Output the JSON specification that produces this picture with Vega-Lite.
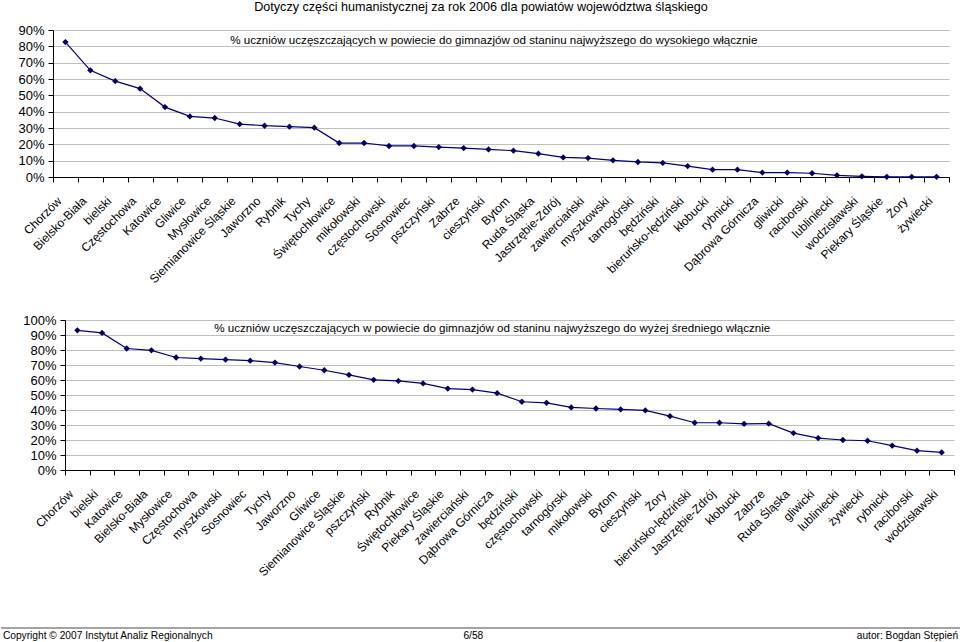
{
  "$schema": "https://vega.github.io/schema/vega-lite/v6.json",
  "background": "white",
  "padding": {"left": 0, "top": 1, "right": 0, "bottom": 0},
  "bounds": "flush",
  "spacing": 143,
  "title": {"text": "Dotyczy części humanistycznej za rok 2006 dla powiatów województwa śląskiego", "font": "Liberation Sans", "fontSize": 12.6, "fontWeight": "normal", "color": "black", "anchor": "middle", "offset": 10},
  "config": {
    "view": {"stroke": null},
    "font": "Liberation Sans",
    "axis": {"labelFont": "Liberation Sans", "labelColor": "black", "domainColor": "black", "tickColor": "black", "title": null},
    "axisX": {"labelAngle": -45, "labelFontSize": 12, "tickBand": "extent", "tickSize": 5, "labelPadding": 13, "labelOffset": -10, "grid": false},
    "axisY": {"format": ".0%", "labelFontSize": 13, "tickSize": 5, "labelPadding": 4, "grid": true, "gridColor": "#bfbfbf", "gridWidth": 1.2}
  },
  "datasets": {
    "top": [
      {"powiat": "Chorzów", "v": 0.826},
      {"powiat": "Bielsko-Biała", "v": 0.653},
      {"powiat": "bielski", "v": 0.587},
      {"powiat": "Częstochowa", "v": 0.541},
      {"powiat": "Katowice", "v": 0.428},
      {"powiat": "Gliwice", "v": 0.371},
      {"powiat": "Mysłowice", "v": 0.361},
      {"powiat": "Siemianowice Śląskie", "v": 0.324},
      {"powiat": "Jaworzno", "v": 0.314},
      {"powiat": "Rybnik", "v": 0.308},
      {"powiat": "Tychy", "v": 0.302},
      {"powiat": "Świętochłowice", "v": 0.208},
      {"powiat": "mikołowski", "v": 0.208},
      {"powiat": "częstochowski", "v": 0.19},
      {"powiat": "Sosnowiec", "v": 0.19},
      {"powiat": "pszczyński", "v": 0.183},
      {"powiat": "Zabrze", "v": 0.177},
      {"powiat": "cieszyński", "v": 0.169},
      {"powiat": "Bytom", "v": 0.161},
      {"powiat": "Ruda Śląska", "v": 0.143},
      {"powiat": "Jastrzębie-Zdrój", "v": 0.12},
      {"powiat": "zawierciański", "v": 0.116},
      {"powiat": "myszkowski", "v": 0.102},
      {"powiat": "tarnogórski", "v": 0.092},
      {"powiat": "będziński", "v": 0.086},
      {"powiat": "bieruńsko-lędziński", "v": 0.067},
      {"powiat": "kłobucki", "v": 0.045},
      {"powiat": "rybnicki", "v": 0.045},
      {"powiat": "Dąbrowa Górnicza", "v": 0.027},
      {"powiat": "gliwicki", "v": 0.027},
      {"powiat": "raciborski", "v": 0.023},
      {"powiat": "lubliniecki", "v": 0.01},
      {"powiat": "wodzisławski", "v": 0.004},
      {"powiat": "Piekary Śląskie", "v": 0.001},
      {"powiat": "Żory", "v": 0.001},
      {"powiat": "żywiecki", "v": 0.001}
    ],
    "bottom": [
      {"powiat": "Chorzów", "v": 0.931},
      {"powiat": "bielski", "v": 0.914},
      {"powiat": "Katowice", "v": 0.81},
      {"powiat": "Bielsko-Biała", "v": 0.798},
      {"powiat": "Mysłowice", "v": 0.75},
      {"powiat": "Częstochowa", "v": 0.743},
      {"powiat": "myszkowski", "v": 0.736},
      {"powiat": "Sosnowiec", "v": 0.729},
      {"powiat": "Tychy", "v": 0.716},
      {"powiat": "Jaworzno", "v": 0.69},
      {"powiat": "Gliwice", "v": 0.665},
      {"powiat": "Siemianowice Śląskie", "v": 0.634},
      {"powiat": "pszczyński", "v": 0.601},
      {"powiat": "Rybnik", "v": 0.594},
      {"powiat": "Świętochłowice", "v": 0.577},
      {"powiat": "Piekary Śląskie", "v": 0.543},
      {"powiat": "zawierciański", "v": 0.536},
      {"powiat": "Dąbrowa Górnicza", "v": 0.512},
      {"powiat": "będziński", "v": 0.455},
      {"powiat": "częstochowski", "v": 0.448},
      {"powiat": "tarnogórski", "v": 0.417},
      {"powiat": "mikołowski", "v": 0.41},
      {"powiat": "Bytom", "v": 0.404},
      {"powiat": "cieszyński", "v": 0.397},
      {"powiat": "Żory", "v": 0.359},
      {"powiat": "bieruńsko-lędziński", "v": 0.315},
      {"powiat": "Jastrzębie-Zdrój", "v": 0.315},
      {"powiat": "kłobucki", "v": 0.308},
      {"powiat": "Zabrze", "v": 0.309},
      {"powiat": "Ruda Śląska", "v": 0.246},
      {"powiat": "gliwicki", "v": 0.213},
      {"powiat": "lubliniecki", "v": 0.2},
      {"powiat": "żywiecki", "v": 0.195},
      {"powiat": "rybnicki", "v": 0.162},
      {"powiat": "raciborski", "v": 0.129},
      {"powiat": "wodzisławski", "v": 0.117}
    ],
    "footer": [
      {"t": "Copyright © 2007 Instytut Analiz Regionalnych", "slot": "left"},
      {"t": "6/58", "slot": "center"},
      {"t": "autor: Bogdan Stępień", "slot": "right"}
    ],
    "noteTop": [
      {"t": "% uczniów uczęszczających w powiecie do gimnazjów od staninu najwyższego do wysokiego włącznie"}
    ],
    "noteBottom": [
      {"t": "% uczniów uczęszczających w powiecie do gimnazjów od staninu najwyższego do wyżej średniego włącznie"}
    ]
  },
  "vconcat": [
    {
      "width": 896, "height": 147,
      "layer": [
        {"data": {"name": "top"},
         "encoding": {
           "x": {"field": "powiat", "type": "nominal", "sort": null, "scale": {"type": "band", "paddingInner": 0, "paddingOuter": 0}},
           "y": {"field": "v", "type": "quantitative", "scale": {"domain": [0, 0.9], "nice": false},
                 "axis": {"values": [0, 0.1, 0.2, 0.3, 0.4, 0.5, 0.6, 0.7, 0.8, 0.9]}}
         },
         "layer": [
           {"mark": {"type": "line", "color": "#000080", "strokeWidth": 1.2}},
           {"mark": {"type": "point", "shape": "diamond", "filled": true, "color": "#000066", "size": 40, "opacity": 1}}
         ]},
        {"data": {"name": "noteTop"},
         "mark": {"type": "text", "align": "left", "baseline": "middle", "fontSize": 11.6, "color": "black", "dx": 3},
         "encoding": {
           "x": {"datum": "Siemianowice Śląskie", "type": "nominal", "bandPosition": 0},
           "y": {"datum": 0.83, "type": "quantitative", "axis": {"values": [0, 0.1, 0.2, 0.3, 0.4, 0.5, 0.6, 0.7, 0.8, 0.9]}},
           "text": {"field": "t", "type": "nominal"}}}
      ]
    },
    {
      "width": 901, "height": 150,
      "layer": [
        {"data": {"name": "bottom"},
         "encoding": {
           "x": {"field": "powiat", "type": "nominal", "sort": null, "scale": {"type": "band", "paddingInner": 0, "paddingOuter": 0, "range": [12, 901]}},
           "y": {"field": "v", "type": "quantitative", "scale": {"domain": [0, 1], "nice": false},
                 "axis": {"values": [0, 0.1, 0.2, 0.3, 0.4, 0.5, 0.6, 0.7, 0.8, 0.9, 1], "offset": -12}}
         },
         "layer": [
           {"mark": {"type": "line", "color": "#000080", "strokeWidth": 1.2}},
           {"mark": {"type": "point", "shape": "diamond", "filled": true, "color": "#000066", "size": 40, "opacity": 1}}
         ]},
        {"data": {"name": "noteBottom"},
         "mark": {"type": "text", "align": "left", "baseline": "middle", "fontSize": 11.6, "color": "black", "dx": 1},
         "encoding": {
           "x": {"datum": "myszkowski", "type": "nominal", "bandPosition": 0},
           "y": {"datum": 0.938, "type": "quantitative", "axis": {"values": [0, 0.1, 0.2, 0.3, 0.4, 0.5, 0.6, 0.7, 0.8, 0.9, 1], "offset": -12}},
           "text": {"field": "t", "type": "nominal"}}}
      ]
    },
    {
      "width": 908, "height": 29,
      "data": {"name": "footer"},
      "layer": [
        {"mark": {"type": "rule", "color": "#999999", "strokeWidth": 1},
         "encoding": {"x": {"datum": 0, "type": "quantitative", "scale": {"domain": [0, 1], "range": [-52, 908]}, "axis": null}, "x2": {"datum": 1}, "y": {"datum": 0.483, "type": "quantitative", "scale": {"domain": [0, 1]}, "axis": null}}},
        {"transform": [{"filter": "datum.slot == 'left'"}],
         "mark": {"type": "text", "align": "left", "baseline": "middle", "fontSize": 10.2, "color": "black"},
         "encoding": {"x": {"datum": 0.002, "type": "quantitative", "axis": null}, "y": {"datum": 0.22, "type": "quantitative", "axis": null}, "text": {"field": "t"}}},
        {"transform": [{"filter": "datum.slot == 'center'"}],
         "mark": {"type": "text", "align": "center", "baseline": "middle", "fontSize": 10.2, "color": "black"},
         "encoding": {"x": {"datum": 0.492, "type": "quantitative", "axis": null}, "y": {"datum": 0.22, "type": "quantitative", "axis": null}, "text": {"field": "t"}}},
        {"transform": [{"filter": "datum.slot == 'right'"}],
         "mark": {"type": "text", "align": "right", "baseline": "middle", "fontSize": 10.2, "color": "black"},
         "encoding": {"x": {"datum": 0.997, "type": "quantitative", "axis": null}, "y": {"datum": 0.22, "type": "quantitative", "axis": null}, "text": {"field": "t"}}}
      ]
    }
  ]
}
